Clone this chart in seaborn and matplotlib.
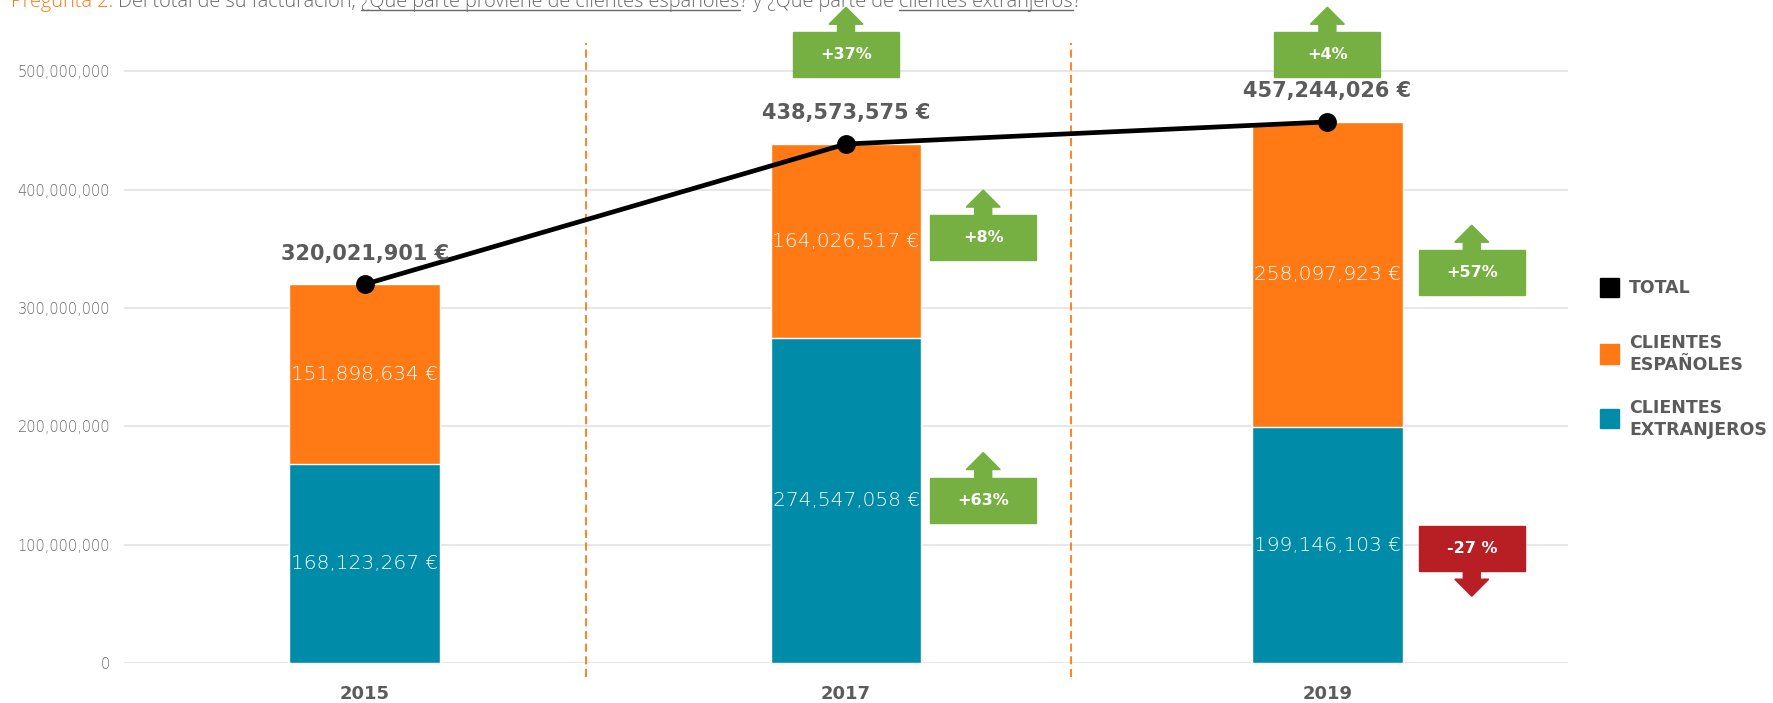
import numpy as np
import pandas as pd
import matplotlib
matplotlib.use('Agg')
import matplotlib.pyplot as plt
import matplotlib.transforms as mtransforms
from matplotlib.patches import Polygon, Rectangle
from matplotlib.lines import Line2D
import seaborn as sns

# Datos de facturacion
years = ['2015', '2017', '2019']
extranjeros = [168123267, 274547058, 199146103]
espanoles = [151898634, 164026517, 258097923]
totales = [320021901, 438573575, 457244026]

# Variaciones respecto al periodo anterior
var_total = [None, '+37%', '+4%']
var_esp = [None, '+8%', '+57%']
var_ext = [None, '+63%', '-27 %']

TEAL = '#008CA8'
ORANGE = '#FF7A14'
GREEN = '#77B042'
RED = '#B81F25'
GREY = '#5B5B5B'
GREY_T = '#6A6A6A'

df = pd.DataFrame({'year': years, 'ext': extranjeros, 'esp': espanoles, 'total': totales})

sns.set_theme(style='white')
plt.rcParams['font.family'] = ['DejaVu Sans']

fig = plt.figure(figsize=(17.74, 7.03), dpi=100)
ax = fig.add_axes([0.0699, 0.0569, 0.8140, 0.909])

# barras apiladas: total (naranja) y extranjeros encima (azul)
sns.barplot(data=df, x='year', y='total', color=ORANGE, width=0.313, saturation=1,
            errorbar=None, ax=ax, zorder=2)
sns.barplot(data=df, x='year', y='ext', color=TEAL, width=0.313, saturation=1,
            errorbar=None, ax=ax, zorder=2)

# linea del total
sns.pointplot(data=df, x='year', y='total', color='black', markers='o', linestyles='-',
              errorbar=None, markersize=11, linewidth=3.4, ax=ax, zorder=5)

ax.set_xlim(-0.5, 2.5)
ax.set_ylim(0, 540e6)
ax.set_yticks(np.arange(0, 500e6 + 1, 100e6))
ax.set_yticklabels([f'{int(v):,}' for v in np.arange(0, 500e6 + 1, 100e6)])
ax.yaxis.grid(True, color='#E3E3E3', lw=1.2)
ax.set_axisbelow(True)
for s in ax.spines.values():
    s.set_visible(False)
ax.tick_params(axis='y', length=0, pad=10, labelsize=10.5, labelcolor='#666666')
ax.tick_params(axis='x', length=0, pad=16, labelsize=13, labelcolor=GREY)
for lbl in ax.get_xticklabels():
    lbl.set_fontweight('bold')
for lbl in ax.get_yticklabels():
    lbl.set_fontweight('light')
ax.set_xlabel('')
ax.set_ylabel('')

# separadores discontinuos
for xs in [0.46, 1.467]:
    ax.plot([xs, xs], [-11.5e6, 524e6], color=ORANGE, lw=1.3, ls=(0, (4.5, 2.5)),
            clip_on=False, zorder=1)

# etiquetas de valores
for i in range(len(years)):
    ax.text(i, extranjeros[i] / 2, f'{extranjeros[i]:,} €', ha='center', va='center',
            color='white', fontsize=14.5, fontweight='light', zorder=6)
    ax.text(i, extranjeros[i] + espanoles[i] / 2, f'{espanoles[i]:,} €', ha='center',
            va='center', color='white', fontsize=14.5, fontweight='light', zorder=6)
    ax.annotate(f'{totales[i]:,} €', (i, totales[i]), xytext=(0, 22), textcoords='offset points',
                ha='center', va='center', color=GREY, fontsize=15, fontweight='bold', zorder=6)


def flecha(x, y, texto, color, arriba=True):
    trans = fig.dpi_scale_trans + mtransforms.ScaledTranslation(x, y, ax.transData)
    w, h = 1.06, 0.45
    ax.add_patch(Rectangle((-w / 2, -h / 2), w, h, transform=trans, color=color,
                           clip_on=False, zorder=7))
    sg = 1 if arriba else -1
    b = h / 2 - 0.005
    pts = [(-0.085, sg * b), (-0.085, sg * (b + 0.085)), (-0.17, sg * (b + 0.085)),
           (0, sg * (b + 0.255)), (0.17, sg * (b + 0.085)), (0.085, sg * (b + 0.085)),
           (0.085, sg * b)]
    ax.add_patch(Polygon(pts, closed=True, transform=trans, color=color,
                         clip_on=False, zorder=7))
    ax.text(x, y, texto, ha='center', va='center', color='white', fontsize=11.5,
            fontweight='bold', zorder=8, clip_on=False)


# posiciones de las flechas de variacion
pos_total = [None, (1.0, 514e6), (2.0, 514e6)]
pos_esp = [None, (1.285, 359.5e6), (2.30, 329.8e6)]
pos_ext = [None, (1.285, 137.7e6), (2.30, 96.6e6)]
for i in range(1, 3):
    flecha(*pos_total[i], var_total[i], GREEN)
    flecha(*pos_esp[i], var_esp[i], GREEN)
    up = not var_ext[i].startswith('-')
    flecha(*pos_ext[i], var_ext[i], GREEN if up else RED, arriba=up)

# leyenda manual
ley = [('TOTAL', 'black', 288), ('CLIENTES\nESPAÑOLES', ORANGE, 354), ('CLIENTES\nEXTRANJEROS', TEAL, 419)]
for txt, col, ypx in ley:
    yf = 1 - ypx / 703
    fig.patches.append(Rectangle((1600 / 1774, yf - 9.5 / 703), 19 / 1774, 19 / 703,
                                 transform=fig.transFigure, color=col))
    fig.text(1629 / 1774, yf, txt, ha='left', va='center', color=GREY, fontsize=12.5,
             fontweight='bold', linespacing=1.25)

# titulo (cortado en la parte superior)
piezas = [('Pregunta 2.', ORANGE, False, ' '), ('Del total de su facturación,', GREY_T, False, ' '),
          ('¿Qué parte proviene de clientes españoles', GREY_T, True, ''), ('?', GREY_T, False, ' '),
          ('y ¿Qué parte de', GREY_T, False, ' '), ('clientes extranjeros', GREY_T, True, ''),
          ('?', GREY_T, False, '')]
renderer = fig.canvas.get_renderer()
ident = mtransforms.IdentityTransform()


def titulo(fs, dibujar_linea):
    x = 11
    arts = []
    t = fig.text(0, 0, 'a a', fontsize=fs, transform=ident, family='Open Sans')
    t2 = fig.text(0, 0, 'aa', fontsize=fs, transform=ident, family='Open Sans')
    esp = t.get_window_extent(renderer).width - t2.get_window_extent(renderer).width
    t.remove()
    t2.remove()
    for s, col, und, sep in piezas:
        tt = fig.text(x, 696, s, color=col, fontsize=fs, va='baseline', ha='left',
                      transform=ident, fontweight='light', family='Open Sans')
        bb = tt.get_window_extent(renderer)
        if und and dibujar_linea:
            fig.lines.append(Line2D([bb.x0, bb.x1], [693, 693], transform=ident,
                                    color=GREY_T, lw=1))
        arts.append(tt)
        x = bb.x1 + (esp if sep else 0)
    return x - 11, arts


ancho, arts = titulo(12, False)
for a in arts:
    a.remove()
titulo(12 * 1073 / ancho, True)

fig.savefig('out.png', dpi=100)
